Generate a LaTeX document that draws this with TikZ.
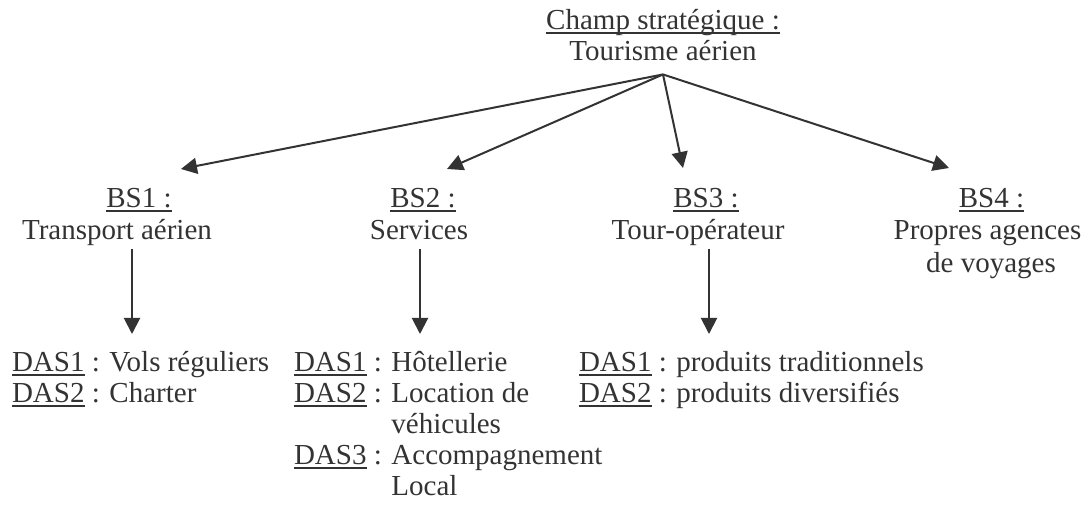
\documentclass[tikz,border=0pt]{standalone}
\usepackage{fontspec}
\setmainfont{Liberation Serif}
\usetikzlibrary{arrows.meta}
\definecolor{ink}{HTML}{333333}
% underline with a thicker, lower rule
\newcommand\undl[1]{\setbox0\hbox{#1}\rlap{\rule[-2.5pt]{\wd0}{0.9pt}}\box0\relax}
\begin{document}
\begin{tikzpicture}[x=0.5pt, y=-0.5pt, line width=1pt, color=ink,
		>={Triangle[length=8pt,width=8pt]},
		main node/.style={align=center, inner sep=0pt, anchor=north, font=\fontsize{14.5}{16.25}\selectfont},
		das node/.style={align=left, inner sep=0pt, anchor=north west, font=\fontsize{14.5}{15.5}\selectfont}]
		\useasboundingbox (0,0) rectangle (1082,507);
		
		\node[main node, font=\fontsize{14.5}{15.5}\selectfont] (champ) at (663,8) {\undl{Champ stratégique :}\\Tourisme aérien};
		\node[main node] (bs1) at (117,187) {\hspace*{22pt}\undl{BS1 :}\\Transport aérien};
		\node[main node] (bs2) at (419,187) {\hspace*{4pt}\undl{BS2 :}\\Services};
		\node[main node] (bs3) at (698,187) {\hspace*{8pt}\undl{BS3 :}\\Tour-opérateur};
		\node[main node] (bs4) at (987.5,187) {\hspace*{4pt}\undl{BS4 :}\\Propres agences\\\hspace*{3.5pt}de voyages};
		
		\node[das node] (das1) at (11,350) {\undl{DAS1} : Vols réguliers\\\undl{DAS2} : Charter};
		\node[das node] (das2) at (293,350) {\undl{DAS1} : Hôtellerie\\\undl{DAS2} : Location de\\\phantom{DAS2 : }véhicules\\\undl{DAS3} : Accompagnement\\\phantom{DAS3 : }Local};
		\node[das node] (das3) at (578,350) {\undl{DAS1} : produits traditionnels\\\undl{DAS2} : produits diversifiés};
		
		\coordinate (root) at ([yshift=-6.5pt]champ.south);
		\coordinate (t1) at (181,169);
		\coordinate (t2) at (447,169);
		\coordinate (t3) at (683,168);
		\coordinate (t4) at (949,168);
		\coordinate (a1) at (132,334);
		\coordinate (a2) at (420,334);
		\coordinate (a3) at (709,334);
		
		\path[->] (root) edge (t1) edge (t2) edge (t3) edge (t4);
		\path[->] ([yshift=-0.85pt]bs1.south -| a1) edge (a1)
		([yshift=-4pt]bs2.south -| a2) edge (a2)
		([yshift=-0.85pt]bs3.south -| a3) edge (a3);
\end{tikzpicture}
\end{document}
